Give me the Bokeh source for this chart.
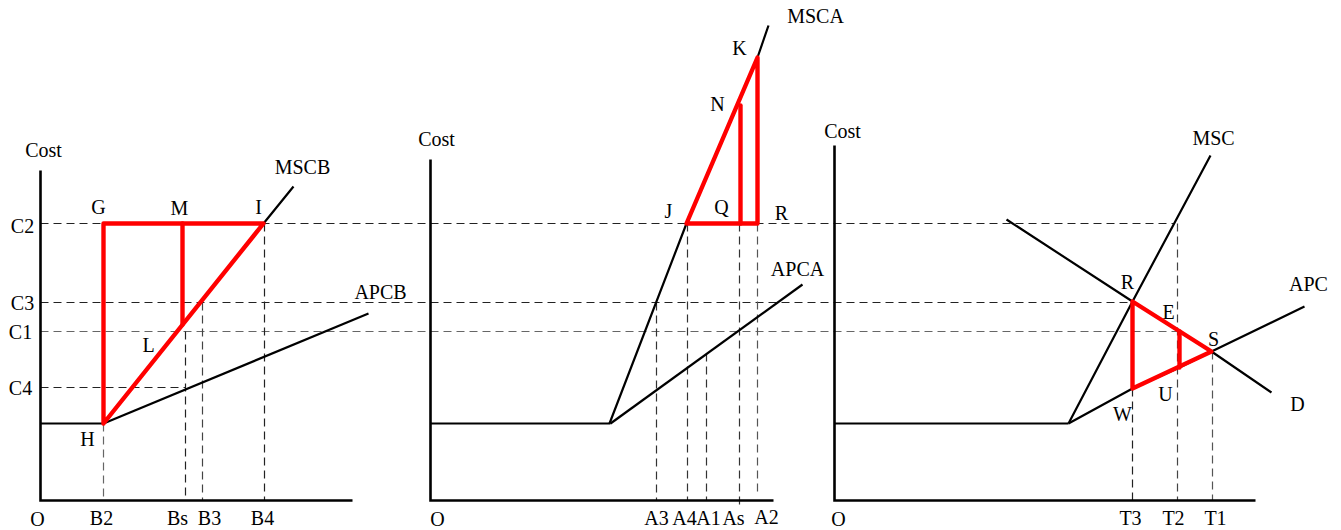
from bokeh.plotting import figure
from bokeh.models import Range1d, ColumnDataSource
from bokeh.core.properties import value
from bokeh.embed import file_html
from bokeh.resources import INLINE

# ---------------- diagram geometry (image pixel units, y downwards) ----------------
# Panel 1 : coal B
p1_axis_x = [40, 40, 352]
p1_axis_y = [170, 500, 500]
p1_flat_x = [40, 103]
p1_flat_y = [423, 423]
mscb_x = [103, 263, 293]
mscb_y = [423, 223, 186]
apcb_x = [103, 368]
apcb_y = [423, 313]
p1_tri_x = [103, 103, 263, 103]          # H, G, I, H
p1_tri_y = [423, 223, 223, 423]
p1_ml_x = [182, 182]                     # M - L
p1_ml_y = [223, 324]

# Panel 2 : coal A
p2_axis_x = [430, 430, 773]
p2_axis_y = [159, 500, 500]
p2_flat_x = [430, 610]
p2_flat_y = [423, 423]
msca_x = [609, 686, 757, 768]
msca_y = [423, 223, 57, 25]
apca_x = [610, 802]
apca_y = [423, 284]
p2_tri_x = [686, 757, 757, 686]          # J, K, R, J
p2_tri_y = [223, 57, 223, 223]
p2_nq_x = [740, 740]                     # N - Q
p2_nq_y = [105, 223]

# Panel 3 : total
p3_axis_x = [834, 834, 1255]
p3_axis_y = [145, 500, 500]
p3_flat_x = [834, 1068]
p3_flat_y = [423, 423]
msc_x = [1068, 1132, 1210]
msc_y = [423, 301, 155]
d_x = [1006, 1132, 1179, 1211, 1271]
d_y = [219, 301, 331, 351, 392]
apc_x = [1068, 1132, 1179, 1211, 1304]
apc_y = [423, 388, 367, 351, 306]
p3_tri_x = [1132, 1132, 1211, 1132]      # R, W, S, R
p3_tri_y = [301, 388, 351, 301]
p3_eu_x = [1179, 1179]                   # E - U
p3_eu_y = [331, 367]

# dashed guide lines
h_guides_x0 = [40, 40, 40, 40]           # C2, C3, C1, C4
h_guides_x1 = [1173, 1132, 1179, 185]
h_guides_y = [223, 302, 331, 387]
h_guides_col = ["#222222", "#222222", "#666666", "#222222"]

v_guides_x = [103, 185, 202, 264, 656, 687, 706, 739, 757, 1132, 1177, 1212]
v_guides_y0 = [423, 331, 302, 223, 302, 223, 353, 223, 223, 388, 223, 351]
v_guides_y1 = [500, 500, 500, 500, 500, 500, 500, 505, 492, 500, 500, 500]
v_guides_col = ["#666666", "#222222", "#444444", "#222222", "#333333", "#333333",
                "#333333", "#333333", "#555555", "#222222", "#444444", "#555555"]

# labels
label_text = ["Cost", "MSCB", "APCB", "C2", "C3", "C1", "C4",
              "G", "M", "I", "L", "H", "O", "B2", "Bs", "B3", "B4",
              "Cost", "MSCA", "APCA", "K", "N", "J", "Q", "R", "O",
              "A3", "A4", "A1", "As", "A2",
              "Cost", "MSC", "APC", "D", "R", "E", "S", "U", "W", "O",
              "T3", "T2", "T1"]
label_x = [43, 302, 380, 22, 22, 20, 20,
           98, 179, 258, 148, 87, 37, 101, 177, 209, 262,
           436, 815, 797, 739, 717, 668, 721, 781, 437,
           656, 684, 708, 733, 766,
           842, 1213, 1308, 1297, 1127, 1168, 1213, 1165, 1122, 838,
           1130, 1173, 1215]
label_y = [149, 166, 291, 225, 302, 331, 387,
           206, 207, 206, 344, 438, 518, 517, 517, 517, 517,
           138, 15, 268, 47, 103, 210, 206, 212, 518,
           517, 517, 517, 517, 516,
           130, 137, 283, 403, 281, 311, 338, 393, 413, 518,
           517, 517, 517]

# ---------------- drawing ----------------
p = figure(width=1341, height=530, output_backend="svg", toolbar_location=None,
           x_range=Range1d(0, 1341), y_range=Range1d(530, 0),
           min_border=0, outline_line_color=None,
           x_axis_type=None, y_axis_type=None)
p.grid.visible = False
p.background_fill_color = "white"
p.border_fill_color = "white"

# dashed guides
hsrc = ColumnDataSource(dict(xs=[[a, b] for a, b in zip(h_guides_x0, h_guides_x1)],
                             ys=[[y, y] for y in h_guides_y], c=h_guides_col))
p.multi_line(xs="xs", ys="ys", line_color="c", line_width=1.2, line_dash="8 5", source=hsrc)
vsrc = ColumnDataSource(dict(xs=[[x, x] for x in v_guides_x],
                             ys=[[a, b] for a, b in zip(v_guides_y0, v_guides_y1)],
                             c=v_guides_col))
p.multi_line(xs="xs", ys="ys", line_color="c", line_width=1.2, line_dash="8 5", source=vsrc)

# axes
for ax, ay in [(p1_axis_x, p1_axis_y), (p2_axis_x, p2_axis_y), (p3_axis_x, p3_axis_y)]:
    p.line(ax, ay, line_color="black", line_width=2.6, line_join="miter")

# black curves
for cx, cy in [(p1_flat_x, p1_flat_y), (mscb_x, mscb_y), (apcb_x, apcb_y),
               (p2_flat_x, p2_flat_y), (msca_x, msca_y), (apca_x, apca_y),
               (p3_flat_x, p3_flat_y), (msc_x, msc_y), (d_x, d_y), (apc_x, apc_y)]:
    p.line(cx, cy, line_color="black", line_width=2.2)

# red welfare-loss triangles
for rx, ry in [(p1_tri_x, p1_tri_y), (p1_ml_x, p1_ml_y),
               (p2_tri_x, p2_tri_y), (p2_nq_x, p2_nq_y),
               (p3_tri_x, p3_tri_y), (p3_eu_x, p3_eu_y)]:
    p.line(rx, ry, line_color="#ff0000", line_width=4.4, line_join="round", line_cap="round")

p.text(x=label_x, y=label_y, text=label_text, text_font=value("Liberation Serif"),
       text_font_size="20px", text_align="center", text_baseline="middle",
       text_color="black")

open("out.html", "w").write(file_html(p, INLINE))
